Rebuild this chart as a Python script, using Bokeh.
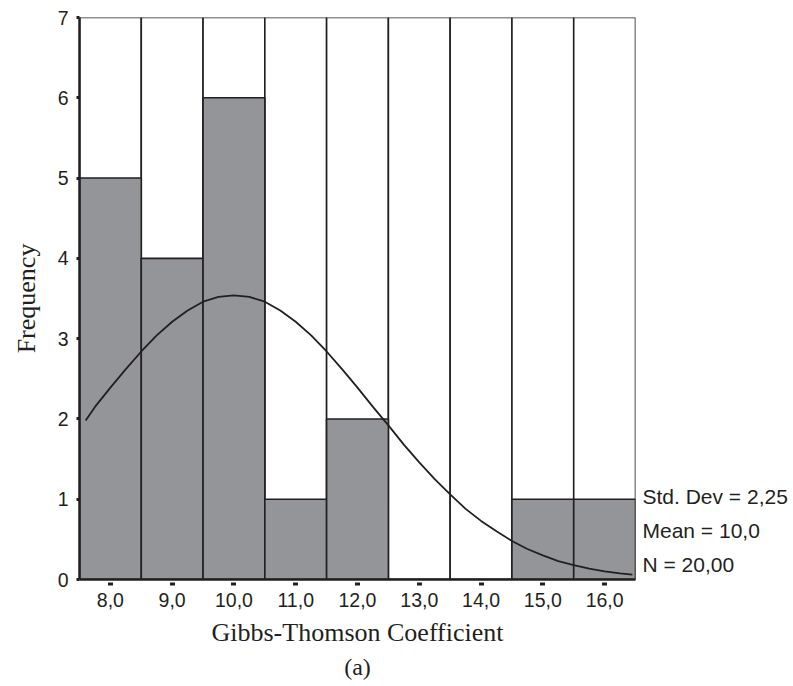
from bokeh.plotting import figure
from bokeh.models import FixedTicker, LinearAxis, Title
from bokeh.embed import file_html
from bokeh.resources import INLINE

# Histogram data
bin_centers = [8, 9, 10, 11, 12, 13, 14, 15, 16]
frequencies = [5, 4, 6, 1, 2, 0, 0, 1, 1]
tick_labels = ["8,0", "9,0", "10,0", "11,0", "12,0", "13,0", "14,0", "15,0", "16,0"]
y_ticks = [0, 1, 2, 3, 4, 5, 6, 7]

# Normal curve
curve_x = [7.6, 7.75, 8.0, 8.25, 8.5, 8.75, 9.0, 9.25, 9.5, 9.75, 10.0, 10.25, 10.5,
           10.75, 11.0, 11.25, 11.5, 11.75, 12.0, 12.25, 12.5, 12.75, 13.0, 13.25,
           13.5, 13.75, 14.0, 14.25, 14.5, 14.75, 15.0, 15.25, 15.5, 15.75, 16.0,
           16.25, 16.45]
curve_y = [1.98, 2.15, 2.39, 2.62, 2.84, 3.04, 3.21, 3.35, 3.46, 3.52, 3.54, 3.52, 3.46,
           3.35, 3.21, 3.04, 2.84, 2.62, 2.39, 2.15, 1.92, 1.68, 1.46, 1.25,
           1.06, 0.88, 0.73, 0.60, 0.48, 0.38, 0.30, 0.23, 0.18, 0.135, 0.10,
           0.075, 0.06]

stats = ["Std. Dev = 2,25", "Mean = 10,0", "N = 20,00"]
stats_y = [1.04, 0.61, 0.19]

bin_width = 1.0
ymax = 7

ink = "#231f20"
grey = "#939598"

p = figure(x_range=(7.5, 16.5), y_range=(0, ymax),
           frame_width=556, frame_height=562,
           min_border_left=79, min_border_right=10,
           min_border_top=17, min_border_bottom=0,
           output_backend="svg", toolbar_location=None,
           background_fill_color="white", border_fill_color="white")
p.outline_line_color = None
p.grid.visible = False

# full-height white columns
p.vbar(x=bin_centers, width=bin_width, top=[ymax] * len(bin_centers), bottom=0,
       fill_color="white", line_color=ink, line_width=1.6)
# grey bars
p.vbar(x=bin_centers, width=bin_width, top=frequencies, bottom=0,
       fill_color=grey, line_color=ink, line_width=1.6)

p.line(curve_x, curve_y, line_color=ink, line_width=1.8)

# axes
p.xaxis.ticker = FixedTicker(ticks=bin_centers)
p.xaxis.major_label_overrides = {c: t for c, t in zip(bin_centers, tick_labels)}
p.yaxis.ticker = FixedTicker(ticks=y_ticks)
p.xaxis.minor_tick_line_color = None
p.yaxis.minor_tick_line_color = None

for ax in (p.xaxis, p.yaxis):
    ax.axis_line_color = ink
    ax.axis_line_width = 2.5
    ax.major_tick_line_color = ink
    ax.major_label_text_font = "Liberation Sans"
    ax.major_label_text_font_size = "19.5px"
    ax.major_label_text_color = ink
    ax.axis_label_text_font = "Liberation Serif"
    ax.axis_label_text_font_style = "normal"
    ax.axis_label_text_font_size = "26px"
    ax.axis_label_text_color = ink

p.yaxis.major_tick_in = 0
p.yaxis.major_tick_out = 3
p.yaxis.major_tick_line_width = 3
p.yaxis.major_label_standoff = 8
p.yaxis.axis_label = "Frequency"
p.yaxis.axis_label_standoff = 14

p.xaxis.major_tick_in = -3
p.xaxis.major_tick_out = 6
p.xaxis.major_tick_line_width = 5
p.xaxis.major_label_standoff = 7
p.xaxis.axis_label = "Gibbs-Thomson Coefficient"
p.xaxis.axis_label_standoff = 8

# statistics text at the right, drawn as an unlined axis
stats_axis = LinearAxis(ticker=FixedTicker(ticks=stats_y),
                        major_label_overrides={y: t for y, t in zip(stats_y, stats)},
                        axis_line_color=None, major_tick_line_color=None,
                        minor_tick_line_color=None,
                        major_tick_in=0, major_tick_out=0,
                        major_label_standoff=7,
                        major_label_text_font="Liberation Sans",
                        major_label_text_font_size="21px",
                        major_label_text_color=ink)
p.add_layout(stats_axis, "right")

p.add_layout(Title(text="(a)", align="center", text_font="Liberation Serif",
                   text_font_style="normal", text_font_size="24px",
                   text_color=ink, standoff=4), "below")

open("out.html", "w").write(file_html(p, INLINE))
